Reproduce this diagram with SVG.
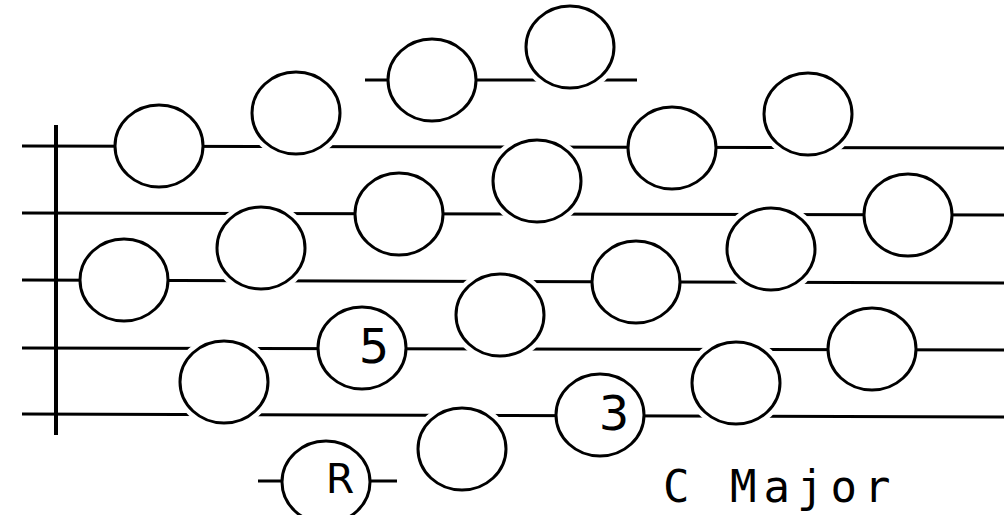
<svg xmlns="http://www.w3.org/2000/svg" width="1004" height="515" viewBox="0 0 1004 515">
<style>
.ln{stroke:#000;stroke-width:3;fill:none;stroke-linecap:butt}
.bar{stroke:#000;stroke-width:4}
.n{fill:#fff;stroke:#000;stroke-width:3}
.halo{fill:#fff;stroke:#fff;stroke-width:12}
.lab{font-family:"DejaVu Sans",sans-serif;fill:#000;text-anchor:middle}
.title{font-family:"DejaVu Sans Mono","Liberation Mono",monospace;font-size:44px;letter-spacing:7px;fill:#000}
</style>
<rect width="1004" height="515" fill="#fff"/>
<g id="connectors">
<line class="ln" x1="22" y1="146" x2="1004" y2="148"/>
<line class="ln" x1="22" y1="213" x2="1004" y2="215"/>
<line class="ln" x1="22" y1="280" x2="1004" y2="283"/>
<line class="ln" x1="22" y1="348" x2="1004" y2="350"/>
<line class="ln" x1="22" y1="414" x2="1004" y2="417"/>
<line class="ln" x1="365" y1="80" x2="637" y2="80"/>
<line class="ln" x1="258" y1="481" x2="397" y2="481"/>
<line class="bar" x1="56" y1="125" x2="56" y2="435"/>
</g>
<g id="n1"><ellipse class="n" cx="159" cy="146" rx="44" ry="41"/></g>
<g id="n2"><ellipse class="halo" cx="296" cy="113" rx="44" ry="41"/><ellipse class="n" cx="296" cy="113" rx="44" ry="41"/></g>
<g id="n3"><ellipse class="n" cx="432" cy="80" rx="44" ry="41"/></g>
<g id="n4"><ellipse class="halo" cx="570" cy="47" rx="44" ry="41"/><ellipse class="n" cx="570" cy="47" rx="44" ry="41"/></g>
<g id="n5"><ellipse class="n" cx="672" cy="148" rx="44" ry="41"/></g>
<g id="n6"><ellipse class="halo" cx="808" cy="114" rx="44" ry="41"/><ellipse class="n" cx="808" cy="114" rx="44" ry="41"/></g>
<g id="n7"><ellipse class="halo" cx="537" cy="181" rx="44" ry="41"/><ellipse class="n" cx="537" cy="181" rx="44" ry="41"/></g>
<g id="n8"><ellipse class="n" cx="399" cy="214" rx="44" ry="41"/></g>
<g id="n9"><ellipse class="halo" cx="261" cy="248" rx="44" ry="41"/><ellipse class="n" cx="261" cy="248" rx="44" ry="41"/></g>
<g id="n10"><ellipse class="n" cx="124" cy="280" rx="44" ry="41"/></g>
<g id="n11"><ellipse class="n" cx="908" cy="215" rx="44" ry="41"/></g>
<g id="n12"><ellipse class="halo" cx="771" cy="249" rx="44" ry="41"/><ellipse class="n" cx="771" cy="249" rx="44" ry="41"/></g>
<g id="n13"><ellipse class="n" cx="636" cy="282" rx="44" ry="41"/></g>
<g id="n14"><ellipse class="halo" cx="500" cy="315" rx="44" ry="41"/><ellipse class="n" cx="500" cy="315" rx="44" ry="41"/></g>
<g id="n15"><ellipse class="n" cx="362" cy="348" rx="44" ry="41"/><text class="lab" x="374" y="363" font-size="48">5</text></g>
<g id="n16"><ellipse class="halo" cx="224" cy="382" rx="44" ry="41"/><ellipse class="n" cx="224" cy="382" rx="44" ry="41"/></g>
<g id="n17"><ellipse class="n" cx="872" cy="349" rx="44" ry="41"/></g>
<g id="n18"><ellipse class="halo" cx="736" cy="383" rx="44" ry="41"/><ellipse class="n" cx="736" cy="383" rx="44" ry="41"/></g>
<g id="n19"><ellipse class="n" cx="600" cy="415" rx="44" ry="41"/><text class="lab" x="614" y="430" font-size="48">3</text></g>
<g id="n20"><ellipse class="halo" cx="462" cy="449" rx="44" ry="41"/><ellipse class="n" cx="462" cy="449" rx="44" ry="41"/></g>
<g id="n21"><ellipse class="n" cx="326" cy="482" rx="44" ry="41"/><text class="lab" x="340" y="493" font-size="41">R</text></g>
<g id="title"><text class="title" x="663" y="502">C Major</text></g>
</svg>
